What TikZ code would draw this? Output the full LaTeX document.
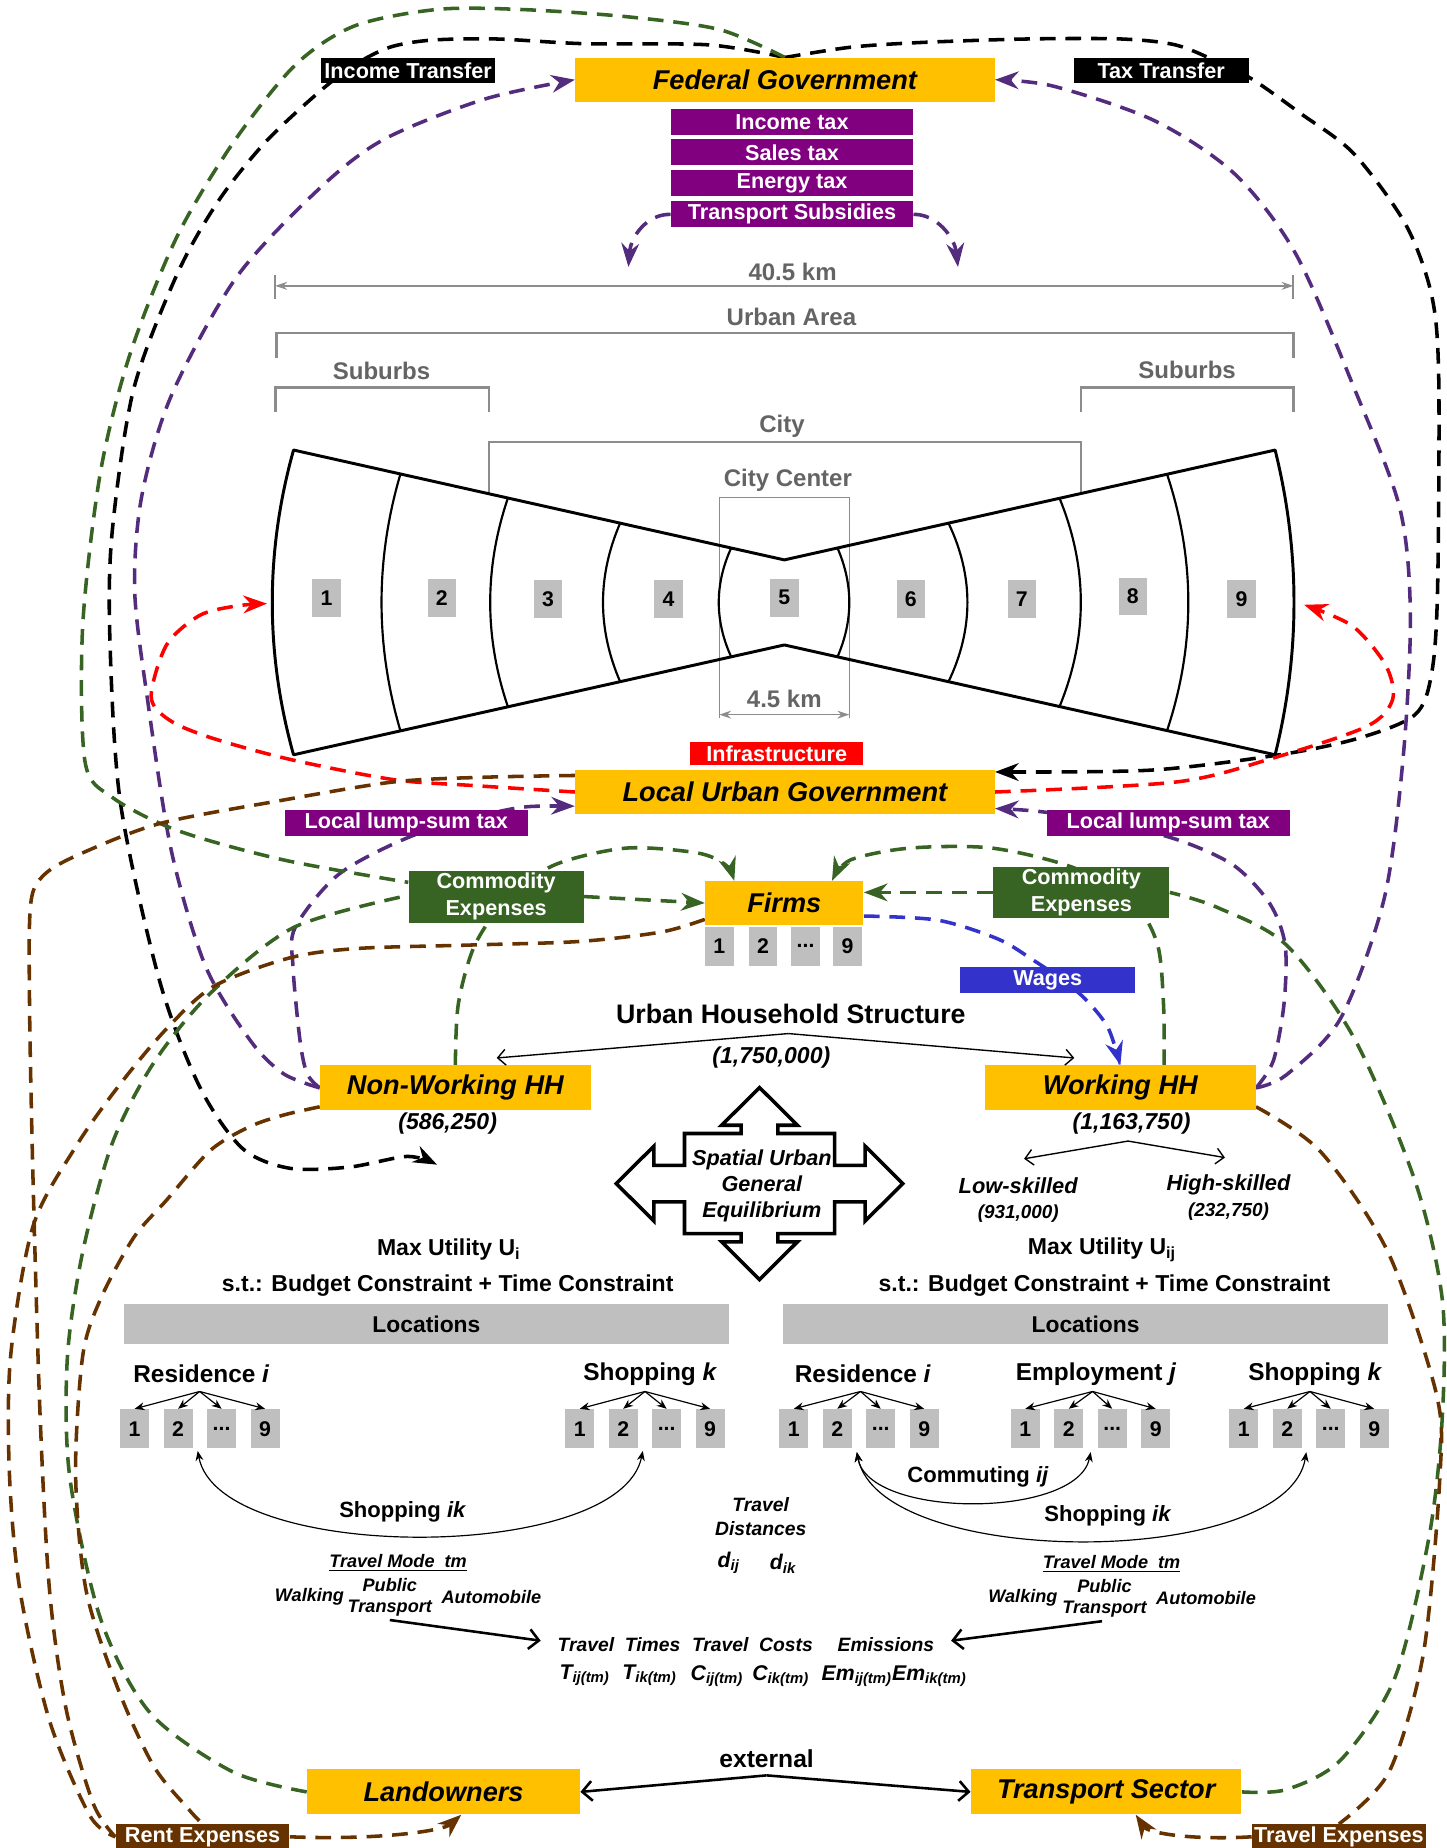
\documentclass[tikz,border=0pt]{standalone}
\usepackage{fontspec}
\setmainfont{Liberation Sans}
\usepackage{tikz}
\usetikzlibrary{arrows.meta, calc, backgrounds}
\definecolor{colorAgent}{RGB}{255,192,0}
\definecolor{colorTax}{RGB}{128,0,128}
\definecolor{colorTaxFlow}{RGB}{84,44,126}
\definecolor{colorCommodity}{RGB}{55,99,35}
\definecolor{colorRent}{RGB}{102,51,0}
\definecolor{colorWage}{RGB}{51,51,204}
\definecolor{colorZone}{RGB}{191,191,191}
\definecolor{colorDim}{RGB}{140,140,140}
\definecolor{colorDimText}{RGB}{100,100,100}
\newcommand{\pxu}{0.6pt}
\newcommand{\threedots}{...}
\tikzset{
  boxsize/.style 2 args={minimum width=#1*\pxu, minimum height=#2*\pxu},
  agent/.style={fill=colorAgent, font=\fontsize{13.8}{16}\selectfont\bfseries\itshape},
  tag/.style={text=white, font=\fontsize{11}{13.6}\selectfont\bfseries},
  zone/.style={fill=colorZone, boxsize={24}{32}, font=\fontsize{10.8}{12}\selectfont\bfseries},
  locbox/.style={fill=colorZone, boxsize={24.5}{33}, font=\fontsize{10.8}{12}\selectfont\bfseries},
  dimtext/.style={text=colorDimText, font=\fontsize{12.2}{14}\selectfont\bfseries},
  dimline/.style={draw=colorDim, line width=1pt},
  dimarrow/.style={dimline, {Stealth[length=6pt,width=4pt]}-{Stealth[length=6pt,width=4pt]}},
  flow/.style={line width=1.8pt, dash pattern=on 8pt off 5pt},
  bodytext/.style={font=\fontsize{11.7}{14}\selectfont\bfseries},
  slanttext/.style={font=\fontsize{11.7}{14}\selectfont\bfseries\itshape},
  loctext/.style={font=\fontsize{12.4}{14}\selectfont\bfseries},
  arctext/.style={font=\fontsize{11.2}{13}\selectfont\bfseries},
  modetext/.style={font=\fontsize{9.2}{10.8}\selectfont\bfseries\itshape, align=center},
  costtext/.style={font=\fontsize{9.8}{12}\selectfont\bfseries\itshape, align=center},
  symtext/.style={font=\fontsize{10.8}{12}\selectfont\bfseries\itshape},
  branch/.style={line width=0.6pt, -{Stealth[length=5pt,width=4pt]}},
  twoway/.style={line width=0.6pt, {Stealth[length=5pt,width=4pt]}-{Stealth[length=5pt,width=4pt]}},
  split/.style={line width=0.7pt, -{Straight Barb[length=4pt,width=8pt]}},
  openarrow/.style={line width=1.3pt, -{Straight Barb[length=5pt,width=10pt]}}
}

\begin{document}
\begin{tikzpicture}[x=0.6pt, y=-0.6pt, inner sep=0pt, >={Stealth[length=12pt,width=9pt]}]
\useasboundingbox (0,0) rectangle (1225,1564.5);

% federal level
\node[agent, boxsize={355}{37}] (fedGov) at (664.5,67.5) {Federal Government};
\node[tag, fill=black, boxsize={147}{21}] (incTransfer) at (345.5,59.5) {Income Transfer};
\node[tag, fill=black, boxsize={148}{21}] (taxTransfer) at (983,59.5) {Tax Transfer};
\node[tag, fill=colorTax, boxsize={205}{22}] (incTax) at (670.5,103.5) {Income tax};
\node[tag, fill=colorTax, boxsize={205}{22}] (salesTax) at (670.5,129) {Sales tax};
\node[tag, fill=colorTax, boxsize={205}{22}] (energyTax) at (670.5,155) {Energy tax};
\node[tag, fill=colorTax, boxsize={205}{22}] (subsidy) at (670.5,181.5) {Transport Subsidies};
\coordinate (subLeft) at (532,226);
\coordinate (subRight) at (811,226);
\draw[flow, colorTaxFlow, ->] (subsidy.west) .. controls (548,181) and (534,200) .. (subLeft);
\draw[flow, colorTaxFlow, ->] (subsidy.east) .. controls (792,181) and (808,200) .. (subRight);

% urban area dimensions
\draw[dimline] (233,233) -- (233,253);
\draw[dimline] (1095,233) -- (1095,253);
\draw[dimarrow] (233,242) -- (1095,242);
\node[dimtext] (totalWidth) at (671,230) {40.5 km};
\draw[dimline, line width=1.3pt] (234,303) |- (1095,282) -- (1095,303);
\node[dimtext] (urbanArea) at (670,268) {Urban Area};
\draw[dimline, line width=1.3pt] (233,349) |- (414,328) -- (414,349);
\node[dimtext] (suburbsLeft) at (323,314) {Suburbs};
\draw[dimline, line width=1.3pt] (915,349) |- (1095,328) -- (1095,349);
\node[dimtext] (suburbsRight) at (1005,313) {Suburbs};
\draw[dimline, line width=0.9pt] (414,418) |- (915,374) -- (915,418);
\node[dimtext] (city) at (662,361) {City};
\draw[dimline, line width=0.7pt] (609,608) |- (719,421) -- (719,608);
\node[dimtext] (cityCenter) at (667,407) {City Center};
\draw[dimarrow, line width=0.8pt] (609,605) -- (719,605);
\node[dimtext] (centerWidth) at (664,592) {4.5 km};

% bow tie of zones
\draw[line width=1.5pt, line join=round] (248.5,381) -- (664,474) -- (1079.5,381)
  .. controls (1100.8,467) and (1100.8,553) .. (1079.5,639) -- (664,546) -- (248.5,639)
  .. controls (224.5,553) and (224.5,467) .. cycle;
\foreach \bx/\bd in {339/-16, 430/-15, 525/-14.5, 619/-10.5, 709/10, 803/16, 897/18, 988/18}{
  \pgfmathsetmacro{\bh}{36+abs(\bx-664)*0.22383}
  \draw[line width=1.1pt] (\bx,{510-\bh}) .. controls ({\bx+4*\bd/3},{510-\bh/3}) and ({\bx+4*\bd/3},{510+\bh/3}) .. (\bx,{510+\bh});
}
\foreach \n/\x/\y in {1/276.5/506, 2/374/506, 3/464/507, 4/566/507, 5/664/506, 6/771/507, 7/865/507, 8/959/505, 9/1051/507}
  \node[zone] (zone\n) at (\x,\y) {\n};

% local level
\node[tag, fill=red, boxsize={147}{20}] (infra) at (657.5,638) {Infrastructure};
\node[agent, boxsize={355}{37}] (localGov) at (664.5,670.5) {Local Urban Government};
\node[tag, fill=colorTax, boxsize={206}{22}] (lumpLeft) at (344,697) {Local lump-sum tax};
\node[tag, fill=colorTax, boxsize={206}{22}] (lumpRight) at (989,697) {Local lump-sum tax};
\node[tag, fill=colorCommodity, boxsize={148}{44}, align=center] (expLeft) at (420,759) {Commodity\\Expenses};
\node[tag, fill=colorCommodity, boxsize={149}{43}, align=center] (expRight) at (915.5,755.5) {Commodity\\Expenses};
\node[agent, boxsize={134}{37}] (firms) at (664,764.5) {Firms};
\foreach \n/\t/\x in {1/1/609, 2/2/646, 3/\threedots/682, 4/9/717.4}
  \node[zone, boxsize={24}{33}] (firm\n) at (\x,801) {\t};
\node[tag, fill=colorWage, boxsize={148}{22}] (wages) at (887,830) {Wages};

% households
\node[font=\fontsize{13.6}{16}\selectfont\bfseries] (hhStruct) at (669.5,858) {Urban Household Structure};
\node[slanttext] (hhTotal) at (653,895) {(1,750,000)};
\node[agent, boxsize={229}{38}] (nwh) at (385.5,921) {Non-Working HH};
\node[agent, boxsize={229}{38}] (wh) at (948.5,921) {Working HH};
\node[slanttext] (nwhCount) at (379,951) {(586,250)};
\node[slanttext] (whCount) at (958,951) {(1,163,750)};
\coordinate (hhApex) at (667.5,875);
\draw[split] (hhApex) -- ($(nwh.north)+(35,-6)$);
\draw[split] (hhApex) -- ($(wh.north)+(-39,-6)$);
\node[font=\fontsize{11.1}{13}\selectfont\bfseries\itshape] (lowSkill) at (862,1004) {Low-skilled};
\node[font=\fontsize{9.6}{11}\selectfont\bfseries\itshape] (lowCount) at (862,1027) {(931,000)};
\node[font=\fontsize{11.1}{13}\selectfont\bfseries\itshape] (highSkill) at (1040,1003) {High-skilled};
\node[font=\fontsize{9.6}{11}\selectfont\bfseries\itshape] (highCount) at (1040,1026) {(232,750)};
\coordinate (skillApex) at (955,966);
\coordinate (lowTip) at (867,981);
\coordinate (highTip) at (1037,980);
\draw[split] (skillApex) -- (lowTip);
\draw[split] (skillApex) -- (highTip);

% equilibrium cross
\draw[line width=1.8pt, line join=miter, fill=white] (643,920.7) -- (675,952.6) -- (658.5,952.6) -- (658.5,959.6)
  -- (706.5,959.6) -- (706.5,986.5) -- (732.4,986.5) -- (732.4,970.3) -- (764.3,1002) -- (732.4,1033.7)
  -- (732.4,1017.5) -- (706.5,1017.5) -- (706.5,1044.4) -- (658.5,1044.4) -- (658.5,1051.4) -- (675,1051.4)
  -- (643,1083.3) -- (611,1051.4) -- (627.5,1051.4) -- (627.5,1044.4) -- (579.5,1044.4) -- (579.5,1017.5)
  -- (553.6,1017.5) -- (553.6,1033.7) -- (521.7,1002) -- (553.6,970.3) -- (553.6,986.5) -- (579.5,986.5)
  -- (579.5,959.6) -- (627.5,959.6) -- (627.5,952.6) -- (611,952.6) -- cycle;
\node[font=\fontsize{11}{13.2}\selectfont\bfseries\itshape, align=center] (spatial) at (645,1004) {Spatial Urban\\General\\Equilibrium};

% household problems
\node[bodytext] (maxLeft) at (380,1058) {Max Utility U\textsubscript{i}};
\node[bodytext] (stLeft) at (379,1088) {s.t.: Budget Constraint + Time Constraint};
\node[bodytext] (maxRight) at (933,1058) {Max Utility U\textsubscript{ij}};
\node[bodytext] (stRight) at (935,1088) {s.t.: Budget Constraint + Time Constraint};
\node[fill=colorZone, boxsize={512}{34}, font=\fontsize{11.6}{14}\selectfont\bfseries] (locLeft) at (361,1121) {Locations};
\node[fill=colorZone, boxsize={512}{34}, font=\fontsize{11.6}{14}\selectfont\bfseries] (locRight) at (919,1121) {Locations};
\node[loctext] (resLeft) at (170.5,1163) {Residence \textit{i}};
\node[loctext] (shopLeft) at (550.5,1163) {Shopping \textit{k}};
\node[loctext] (resRight) at (730.5,1163) {Residence \textit{i}};
\node[loctext] (empRight) at (928,1163) {Employment \textit{j}};
\node[loctext] (shopRight) at (1113.5,1163) {Shopping \textit{k}};
\foreach \grp/\x/\ax in {resLeft/114/169, shopLeft/490.8/546, resRight/672/728.5, empRight/868/925, shopRight/1053/1109}{
  \coordinate (\grp Apex) at (\ax,1178);
  \foreach \n/\t in {1/1, 2/2, 3/\threedots, 4/9}{
    \node[locbox] (\grp Box\n) at ({\x+(\n-1)*36.8},1209.5) {\t};
    \draw[branch] (\grp Apex) -- (\grp Box\n.north);
  }
}
\draw[twoway] ($(resLeftBox2.south east)+(4,2)$) .. controls (185,1324) and (525,1324) .. ($(shopLeftBox2.south east)+(4,2)$);
\node[arctext] (shopArcLeft) at (341,1280) {Shopping \textit{ik}};
\draw[twoway] ($(resRightBox2.south east)+(4,3)$) .. controls (735,1286) and (912,1286) .. ($(empRightBox2.south east)+(6,3)$);
\node[arctext] (commArc) at (828,1250) {Commuting \textit{ij}};
\draw[twoway] ($(resRightBox2.south east)+(4,3)$) .. controls (745,1329) and (1090,1329) .. ($(shopRightBox2.south east)+(3.5,3)$);
\node[arctext] (shopArcRight) at (938,1283) {Shopping \textit{ik}};

% travel modes and costs
\node[modetext] (modeLeft) at (337,1323) {\underline{Travel Mode\ \ tm}};
\node[modetext] (walkLeft) at (262,1352) {Walking};
\node[modetext] (ptLeft) at (330,1352) {Public\\Transport};
\node[modetext] (autoLeft) at (416,1352) {Automobile};
\node[modetext] (modeRight) at (941,1324) {\underline{Travel Mode\ \ tm}};
\node[modetext] (walkRight) at (866,1353) {Walking};
\node[modetext] (ptRight) at (935,1353) {Public\\Transport};
\node[modetext] (autoRight) at (1021,1353) {Automobile};
\node[costtext] (distances) at (644,1284) {Travel\\Distances};
\node[symtext] (dij) at (617,1323) {d\textsubscript{ij}};
\node[symtext] (dik) at (663,1324) {d\textsubscript{ik}};
\node[costtext] (travelTimes) at (524,1392) {Travel\ \ Times};
\node[costtext] (travelCosts) at (637,1392) {Travel\ \ Costs};
\node[costtext] (emissions) at (750,1392) {Emissions};
\node[symtext] (tij) at (495,1418) {T\textsubscript{ij(tm)}};
\node[symtext] (tik) at (550,1418) {T\textsubscript{ik(tm)}};
\node[symtext] (cij) at (607,1419) {C\textsubscript{ij(tm)}};
\node[symtext] (cik) at (661,1419) {C\textsubscript{ik(tm)}};
\node[symtext] (emis) at (757,1419) {Em\textsubscript{ij(tm)}Em\textsubscript{ik(tm)}};
\draw[openarrow] ($(ptLeft.south)+(0,3)$) -- ($(travelTimes.west)+(-14,-3)$);
\draw[openarrow] ($(ptRight.south)+(-2,3)$) -- ($(emissions.east)+(14,-3)$);

% external agents
\node[agent, boxsize={231}{38}] (landowners) at (375.5,1517) {Landowners};
\node[agent, boxsize={229}{38}] (transport) at (936.5,1517) {Transport Sector};
\node[font=\fontsize{12.5}{14}\selectfont\bfseries] (external) at (649,1489) {external};
\coordinate (extApex) at (649,1503);
\draw[openarrow] (extApex) -- (landowners.east);
\draw[openarrow] (extApex) -- (transport.west);
\node[tag, fill=colorRent, boxsize={147}{21}] (rent) at (171.5,1555) {Rent Expenses};
\node[tag, fill=colorRent, boxsize={147}{21}] (travExp) at (1133.5,1555) {Travel Expenses};

\coordinate (infraLeft) at (226,511);
\coordinate (infraRight) at (1104,512);
\coordinate (incArrow) at (370,986);

\begin{scope}[on background layer]
% transfers of the federal government
\draw[flow, black, ->] plot[smooth] coordinates {(fedGov.north) (600,38) (495,37) (420,33) (365,34) (330,40) (300,55) (270,78) (225,120) (185,170) (150,232) (113,330) (95,450) (93,540) (102,680) (135,830) (169,920) (205,972) (245,989) (296,988) (345,979) (incArrow)};
\draw[flow, black, ->] plot[smooth] coordinates {(fedGov.north) (720,40) (779,36) (870,33) (949,33) (995,38) (1030,52) (1060,67) (1101,96) (1146,130) (1190,190) (1212,250) (1218,320) (1217,500) (1212,570) (1198,605) (1150,625) (1083,639) (974,652) ($(localGov.east)+(0,-17)$)};
% taxes
\draw[flow, colorTaxFlow, ->] plot[smooth] coordinates {(nwh.west) (240,909) (212,881) (174,818) (145,720) (125,593) (114,500) (120,420) (145,335) (200,235) (270,160) (325,118) (410,84) (fedGov.west)};
\draw[flow, colorTaxFlow, ->] plot[smooth] coordinates {(nwh.west) (260,909) (254,881) (248,818) (250,785) (287,740) (348,708) (410,690) (446,683) ($(localGov.west)+(0,12)$)};
\draw[flow, colorTaxFlow, ->] plot[smooth] coordinates {(wh.east) (1089,910) (1135,862) (1172,760) (1188,640) (1194,520) (1185,430) (1147,330) (1097,215) (1045,147) (977,102) (892,73) (fedGov.east)};
\draw[flow, colorTaxFlow, ->] plot[smooth] coordinates {(wh.east) (1078,898) (1087,850) (1088,800) (1075,765) (1045,733) (1000,712) (940,696) (880,687) ($(localGov.east)+(0,14)$)};
% infrastructure
\draw[flow, red, ->] plot[smooth] coordinates {(localGov.west) (400,665) (333,660) (246,643) (180,625) (144,610) (128,590) (141,546) (169,521) (200,513) (infraLeft)};
\draw[flow, red, ->] plot[smooth] coordinates {(localGov.east) (996,662) (1077,642) (1157,615) (1179,592) (1173,563) (1145,530) (infraRight)};
% commodity expenses
\draw[flow, colorCommodity] plot[smooth] coordinates {(fedGov.north) (609,25) (529,14) (440,8) (370,8) (300,22) (250,55) (198,120) (150,200) (110,300) (85,400) (70,530) (72,645) (95,675) (150,703) (240,728) ($(expLeft.west)+(0,-12)$)};
\draw[flow, colorCommodity] plot[smooth] coordinates {(landowners.west) (197,1500) (127,1450) (85,1370) (59,1250) (57,1150) (70,1060) (95,968) (130,900) (178,841) (249,785) ($(expLeft.west)+(0,-1)$)};
\draw[flow, colorCommodity, ->] (expLeft.east) -- (firms.west);
\draw[flow, colorCommodity, ->] plot[smooth] coordinates {(nwh.north) (388,850) (402,800) (430,760) (470,732) (530,718) (590,722) (614,732) ($(firms.north west)+(25,0)$)};
\draw[flow, colorCommodity, ->] plot[smooth] coordinates {($(wh.north)+(37,0)$) (985,850) (980,800) (960,765) (910,735) (840,718) (770,718) (720,728) ($(firms.north east)+(-27,0)$)};
\draw[flow, colorCommodity] plot[smooth] coordinates {(transport.east) (1089,1515) (1135,1490) (1181,1420) (1210,1300) (1221,1200) (1221,1100) (1198,1000) (1147,880) (1089,800) (1030,768) (expRight.east)};
\draw[flow, colorCommodity, ->] (expRight.west) -- (firms.east |- expRight.west);
% wages
\draw[flow, colorWage, ->] plot[smooth] coordinates {($(firms.east)+(0,11)$) (794,779) (845,795) (875,813) (900,830) (920,847) (938,870) (wh.north)};
% rent and travel expenses
\draw[flow, colorRent] plot[smooth] coordinates {($(localGov.west)+(0,-14)$) (410,658) (333,662) (236,678) (136,697) (70,722) (38,740) (26,765) (25,850) (28,1000) (34,1200) (42,1347) (56,1447) (79,1527) (rent.west)};
\draw[flow, colorRent] plot[smooth] coordinates {($(firms.south west)+(0,-5)$) (560,789) (491,797) (400,800) (302,803) (245,811) (181,835) (140,872) (100,920) (64,971) (28,1038) (9,1148) (8,1248) (17,1347) (42,1457) (76,1537) (rent.west)};
\draw[flow, colorRent] plot[smooth] coordinates {($(nwh.west)+(0,16)$) (240,944) (211,954) (178,974) (141,1016) (113,1048) (85,1100) (70,1148) (64,1248) (73,1347) (100,1430) (130,1495) (160,1532) (rent.north)};
\draw[flow, colorRent] plot[smooth] coordinates {($(wh.east)+(0,16)$) (1118,975) (1175,1060) (1216,1180) (1219,1250) (1205,1400) (1176,1500) (travExp.north)};
\draw[flow, colorRent, ->] (rent.east) .. controls (320,1558) and (375,1550) .. ($(landowners.south)+(15,0)$);
\draw[flow, colorRent, ->] (travExp.west) .. controls (1010,1558) and (972,1552) .. ($(transport.south)+(25,0)$);
\end{scope}
\end{tikzpicture}
\end{document}
